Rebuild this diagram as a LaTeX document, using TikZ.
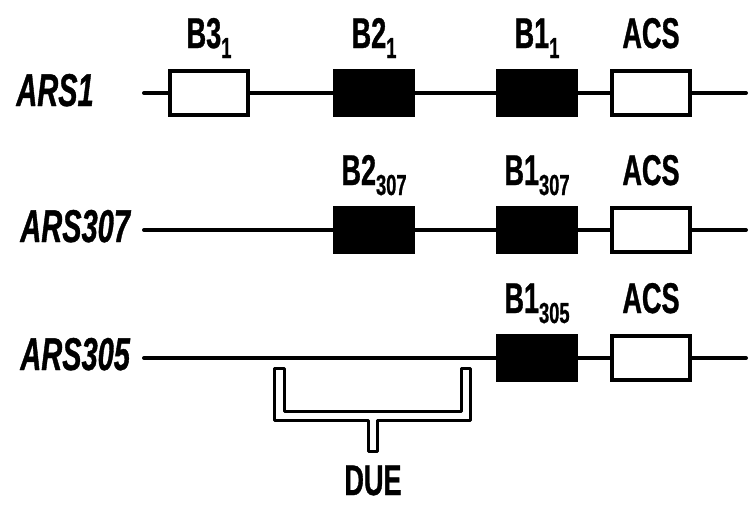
\documentclass[tikz,border=0pt]{standalone}
\usepackage{fontspec}
\setmainfont[FakeStretch=0.63, BoldFeatures={FakeBold=0.8}, BoldItalicFeatures={FakeBold=0.8}]{Liberation Sans}

\tikzset{
  dna/.style={line width=2pt, line cap=round},
  openbox/.style={draw, line width=1.8pt, fill=white, minimum width=39pt, minimum height=22pt, inner sep=0pt},
  filledbox/.style={openbox, fill=black},
  boxlabel/.style={anchor=base, inner sep=0pt, font=\bfseries\fontsize{21.5}{21.5}\selectfont},
  arsname/.style={anchor=base west, inner sep=0pt, font=\bfseries\itshape\fontsize{23}{23}\selectfont},
}
\newcommand{\subno}[1]{\raisebox{-5pt}{\fontsize{14.5}{14.5}\selectfont #1}}

\begin{document}
\begin{tikzpicture}[x=0.5pt,y=-0.5pt]
\useasboundingbox (0,0) rectangle (749,505);

% ARS1
\node[arsname] (ars1) at (16,106) {ARS1};
\coordinate (s1) at (144,93);
\coordinate (e1) at (746,93);
\node[openbox] (b31) at (209,93) {};
\node[filledbox] (b21) at (374,93) {};
\node[filledbox] (b11) at (537,93) {};
\node[openbox] (acs1) at (651,93) {};
\draw[dna] (s1) -- (b31) -- (b21) -- (b11) -- (acs1) -- (e1);
\node[boxlabel] (lb31) at (209,48) {B3\subno{1}};
\node[boxlabel] (lb21) at (374,48) {B2\subno{1}};
\node[boxlabel] (lb11) at (537,48) {B1\subno{1}};
\node[boxlabel] (lacs1) at (651,48) {ACS};

% ARS307
\node[arsname] (ars307) at (20,242) {ARS307};
\coordinate (s2) at (144,230);
\coordinate (e2) at (746,230);
\node[filledbox] (b22) at (374,230) {};
\node[filledbox] (b12) at (537,230) {};
\node[openbox] (acs2) at (651,230) {};
\draw[dna] (s2) -- (b22) -- (b12) -- (acs2) -- (e2);
\node[boxlabel] (lb22) at (374,185) {B2\subno{307}};
\node[boxlabel] (lb12) at (537,185) {B1\subno{307}};
\node[boxlabel] (lacs2) at (651,185) {ACS};

% ARS305
\node[arsname] (ars305) at (20,370) {ARS305};
\coordinate (s3) at (144,358);
\coordinate (e3) at (746,358);
\node[filledbox] (b13) at (537,358) {};
\node[openbox] (acs3) at (651,358) {};
\draw[dna] (s3) -- (b13) -- (acs3) -- (e3);
\node[boxlabel] (lb13) at (537,313) {B1\subno{305}};
\node[boxlabel] (lacs3) at (651,313) {ACS};

% DUE bracket
\draw[line width=1.5pt, fill=white, line join=round]
  (274.5,368) -- (274.5,420.5) -- (368.5,420.5) -- (368.5,451.5) -- (377.5,451.5)
  -- (377.5,420.5) -- (470.5,420.5) -- (470.5,368) -- (461.5,368) -- (461.5,411.5)
  -- (284.5,411.5) -- (284.5,368) -- cycle;
\node[boxlabel] (due) at (373,495) {DUE};
\end{tikzpicture}
\end{document}
